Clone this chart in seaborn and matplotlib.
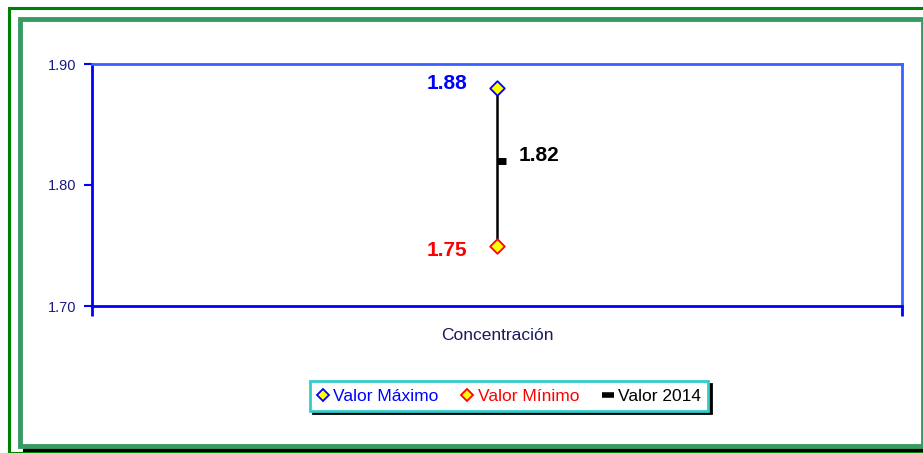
import matplotlib
matplotlib.use("Agg")
import matplotlib.pyplot as plt
import seaborn as sns
import pandas as pd
from matplotlib.lines import Line2D
from matplotlib.patches import Rectangle

# Datos
categorias = ["Concentración"]
valor_maximo = [1.88]
valor_minimo = [1.75]
valor_2014 = [1.82]
yticks = [1.70, 1.80, 1.90]

sns.set_style("white")
plt.rcParams['font.family'] = ['Liberation Sans', 'DejaVu Sans']

df = pd.DataFrame({"cat": [0], "max": valor_maximo, "min": valor_minimo, "v2014": valor_2014})

fig = plt.figure(figsize=(9.23, 4.53), dpi=100)
ax = fig.add_axes([92/923, 1-306/453, (902-92)/923, (306-64)/453])

# marcos verdes
fig.patches.append(Rectangle((9/923, 0), 1, 1-8/453, transform=fig.transFigure,
                             fill=False, edgecolor="#008000", lw=2.2, zorder=0))
fig.patches.append(Rectangle((23/923, 1-452/453), 900/923, 4/453, transform=fig.transFigure,
                             facecolor="black", edgecolor="none", zorder=0))
fig.patches.append(Rectangle((20/923, 1-446/453), 902.5/923, 427/453, transform=fig.transFigure,
                             fill=False, edgecolor="#3a9a64", lw=3.5, zorder=1))

# línea vertical entre mínimo y máximo
ax.vlines(df["cat"], df["min"], df["max"], color="black", lw=1.8, zorder=2)

sns.scatterplot(data=df, x="cat", y="max", marker="D", s=55, color="#ffff00",
                edgecolor="#0000ff", linewidth=1.3, ax=ax, zorder=3)
sns.scatterplot(data=df, x="cat", y="min", marker="D", s=55, color="#ffff00",
                edgecolor="#ff0000", linewidth=1.3, ax=ax, zorder=3)
ax.hlines(df["v2014"], df["cat"], df["cat"] + 0.011, color="black", lw=5, zorder=3)

for x, v in zip(df["cat"], valor_maximo):
    ax.annotate(f"{v:.2f}", (x, v), xytext=(-30, 5), textcoords="offset pixels",
                ha="right", va="center", color="#0000ff", fontsize=15, fontweight="bold")
for x, v in zip(df["cat"], valor_minimo):
    ax.annotate(f"{v:.2f}", (x, v), xytext=(-30, -5), textcoords="offset pixels",
                ha="right", va="center", color="#ff0000", fontsize=15, fontweight="bold")
for x, v in zip(df["cat"], valor_2014):
    ax.annotate(f"{v:.2f}", (x, v), xytext=(22, 5), textcoords="offset pixels",
                ha="left", va="center", color="black", fontsize=15, fontweight="bold")

ax.set_xlim(-0.5, 0.5)
ax.set_ylim(1.70, 1.90)
ax.set_yticks(yticks)
ax.set_yticklabels([f"{t:.2f}" for t in yticks], fontsize=10.5, color="#1a1a80")
ax.set_xticks([0])
ax.set_xticklabels(categorias, fontsize=12.5, color="#1a1a60")
ax.set_xticks([-0.5, 0.5], minor=True)
ax.tick_params(axis="x", which="major", length=0, pad=16)
ax.tick_params(axis="x", which="minor", bottom=True, length=7, width=2, color="#0000ff", direction="out")
ax.tick_params(axis="y", left=True, length=6, width=1.5, color="#0000ff", direction="out", pad=5)
ax.set_xlabel("")
ax.set_ylabel("")

for s in ["left", "bottom"]:
    ax.spines[s].set_color("#0000ff")
    ax.spines[s].set_linewidth(2)
for s in ["top", "right"]:
    ax.spines[s].set_color("#3a60ff")
    ax.spines[s].set_linewidth(2)

handles = [
    Line2D([], [], marker="D", ls="none", ms=6.5, mfc="#ffff00", mec="#0000ff", mew=1.3),
    Line2D([], [], marker="D", ls="none", ms=6.5, mfc="#ffff00", mec="#ff0000", mew=1.3),
    Line2D([], [], marker="_", ls="none", ms=8, mec="black", mew=4),
]
leg = fig.legend(handles, ["Valor Máximo", "Valor Mínimo", "Valor 2014"], ncol=3,
                 loc="center", bbox_to_anchor=(509/923, 1-396/453), fontsize=12.5,
                 frameon=True, fancybox=False, shadow={"color": "black", "alpha": 1},
                 handlelength=0.7, handletextpad=0.25, columnspacing=1.3,
                 borderpad=0.4, edgecolor="#33cccc")
leg.get_frame().set_linewidth(2)
for t, c in zip(leg.get_texts(), ["#0000ff", "#ff0000", "black"]):
    t.set_color(c)

fig.savefig("out.png", dpi=100)
